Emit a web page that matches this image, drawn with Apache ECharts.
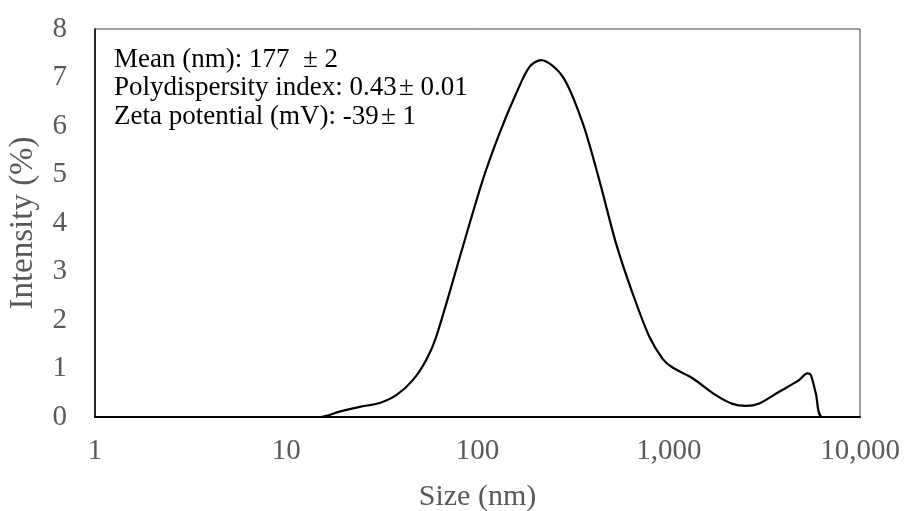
<!DOCTYPE html>
<html>
<head>
<meta charset="utf-8">
<script src="https://cdn.jsdelivr.net/npm/echarts@6/dist/echarts.min.js"></script>
<style>html,body{margin:0;padding:0;background:#fff;}#c{width:905px;height:511px;}</style>
</head>
<body>
<div id="c"></div>
<script>
var sizes = [1, 15, 19, 24.2, 30.8, 37.6, 45.9, 54, 60.9, 83.8, 106.6, 130.3, 159.2, 187, 215, 279, 355, 433, 530, 647, 791, 929, 1047, 1331, 1763, 2153, 2531, 2972, 3777, 4800, 5306, 5528, 5873, 6356, 10000];
var intensity = [0, 0, 0.11, 0.21, 0.29, 0.45, 0.76, 1.18, 1.66, 3.51, 4.89, 5.85, 6.67, 7.22, 7.36, 7.02, 6.06, 4.89, 3.58, 2.55, 1.66, 1.2, 1.02, 0.80, 0.45, 0.27, 0.23, 0.28, 0.52, 0.76, 0.90, 0.87, 0.49, 0, 0];
var yTicks = [0, 1, 2, 3, 4, 5, 6, 7, 8];
var annotationLines = ['Mean (nm): 177  \u00b1 2', 'Polydispersity index: 0.43\u200a\u00b1 0.01', 'Zeta potential (mV): -39\u200a\u00b1 1'];
var xName = 'Size (nm)';
var yName = 'Intensity (%)';

var font = '"Liberation Serif", "Times New Roman", serif';
var chart = echarts.init(document.getElementById('c'), null, {renderer: 'canvas'});
var data = sizes.map(function (s, i) { return [s, intensity[i]]; });
chart.setOption({
  animation: false,
  grid: {left: 95, right: 45, top: 29, bottom: 94, show: true, borderColor: '#404040', borderWidth: 1, containLabel: false, outerBoundsMode: 'none'},
  xAxis: {
    type: 'log', logBase: 10, min: 1, max: 10000,
    name: xName, nameLocation: 'middle', nameGap: 65,
    nameTextStyle: {fontFamily: font, fontSize: 30, color: '#595959'},
    axisLine: {show: true, onZero: false, lineStyle: {color: '#000', width: 2}},
    axisTick: {show: false},
    splitLine: {show: false},
    minorTick: {show: false},
    axisLabel: {
      fontFamily: font, fontSize: 29, color: '#595959', margin: 20, showMinLabel: true, showMaxLabel: true,
      formatter: function (v) { return Math.round(v).toLocaleString('en-US'); }
    }
  },
  yAxis: {
    type: 'value', min: yTicks[0], max: yTicks[yTicks.length - 1], interval: 1,
    name: yName, nameLocation: 'middle', nameGap: 55, nameRotate: 90,
    nameTextStyle: {fontFamily: font, fontSize: 33, color: '#595959'},
    axisLine: {show: true, lineStyle: {color: '#000', width: 1.5}},
    axisTick: {show: false},
    splitLine: {show: false},
    axisLabel: {fontFamily: font, fontSize: 29, color: '#595959', margin: 28}
  },
  series: [{
    type: 'line', data: data, smooth: 0.3, showSymbol: false, symbol: 'none',
    lineStyle: {color: '#000', width: 2.2}, z: 3
  }],
  graphic: annotationLines.map(function (t, i) {
    return {type: 'text', left: 114, top: 46 + i * 28.5, z: 10,
      style: {text: t, font: '27px ' + font, fill: '#000'}};
  })
});
</script>
</body>
</html>
